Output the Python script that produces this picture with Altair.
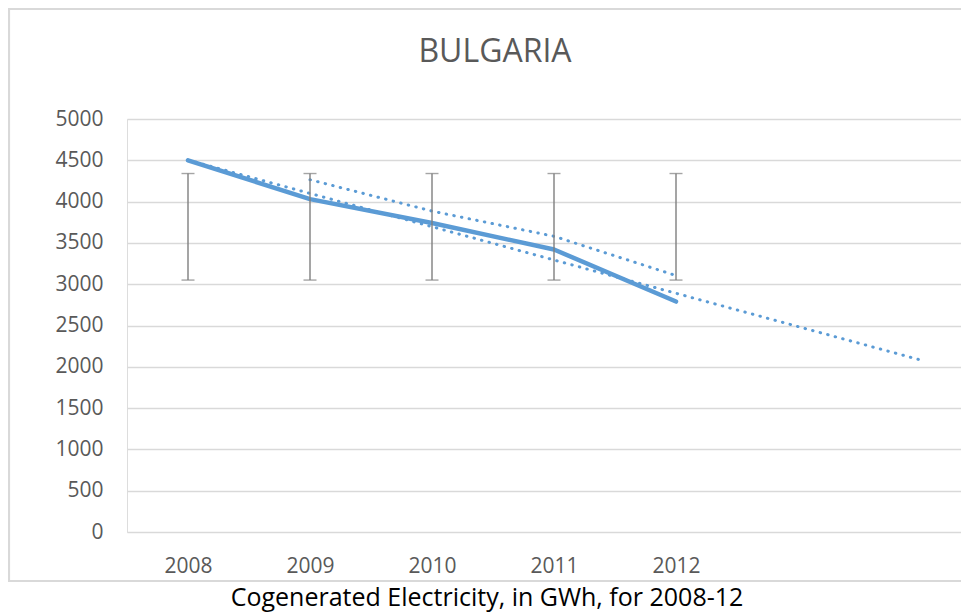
import altair as alt
import pandas as pd

years = [2008, 2009, 2010, 2011, 2012]
values = [4500, 4030, 3740, 3420, 2790]
err_low = [3050, 3050, 3050, 3050, 3050]
err_high = [4340, 4340, 4340, 4340, 4340]
y_ticks = [0, 500, 1000, 1500, 2000, 2500, 3000, 3500, 4000, 4500, 5000]
title_text = "BULGARIA"
caption_text = "Cogenerated Electricity, in GWh, for 2008-12"

df = pd.DataFrame({"year": years, "value": values, "lo": err_low, "hi": err_high})

W, H = 834, 413
PL, PT = 119, 111
BLUE = "#5B9BD5"
GREY_TXT = "#595959"
FONT = "Open Sans"

xscale = alt.Scale(domain=[2007.5, 2007.5 + W / 122.0], nice=False, zero=False)
yscale = alt.Scale(domain=[0, 5000], nice=False)

x_enc = alt.X("year:Q", scale=xscale,
              axis=alt.Axis(values=years, format="d", grid=False, domain=False, ticks=False,
                            labelPadding=23, labelFontSize=21, labelColor=GREY_TXT,
                            labelFont=FONT, title=None))
y_enc = alt.Y("value:Q", scale=yscale,
              axis=alt.Axis(values=y_ticks, format="d", grid=True, gridColor="#d9d9d9",
                            gridWidth=1.3, domain=False, ticks=False, labelPadding=24,
                            labelFontSize=21, labelColor=GREY_TXT, labelFont=FONT, title=None))

base = alt.Chart(df)

frame = alt.Chart(pd.DataFrame({"k": [0]})).mark_rect(
    fill=None, stroke="#d9d9d9", strokeWidth=2.2
).encode(
    x=alt.value(-118), x2=alt.value(W + 40),
    y=alt.value(-110), y2=alt.value(462),
)

line = base.mark_line(color=BLUE, strokeWidth=4.5, strokeCap="round", strokeJoin="round").encode(
    x=x_enc, y=y_enc)

dot_style = dict(color=BLUE, strokeWidth=3, strokeCap="round", strokeDash=[0.5, 7.3])

trend = base.transform_regression(
    "year", "value", method="linear", extent=[2008, 2014]
).mark_line(**dot_style).encode(x="year:Q", y="value:Q")

mavg = base.transform_window(
    ma="mean(value)", cnt="count()", frame=[-1, 0], sort=[alt.SortField("year")]
).transform_filter("datum.cnt == 2").mark_line(**dot_style).encode(
    x="year:Q", y=alt.Y("ma:Q"))

err_rule = base.mark_rule(color="#7f7f7f", strokeWidth=1.4).encode(
    x="year:Q", y="lo:Q", y2="hi:Q")
cap_lo = base.mark_tick(color="#7f7f7f", orient="horizontal", size=13, thickness=1.4).encode(
    x="year:Q", y="lo:Q")
cap_hi = base.mark_tick(color="#7f7f7f", orient="horizontal", size=13, thickness=1.4).encode(
    x="year:Q", y="hi:Q")

title = alt.Chart(pd.DataFrame({"t": [title_text]})).mark_text(
    font=FONT, fontSize=32, color=GREY_TXT, align="center", baseline="alphabetic"
).encode(text="t:N", x=alt.value(495 - 127), y=alt.value(62.3 - 119))

caption = alt.Chart(pd.DataFrame({"t": [caption_text]})).mark_text(
    font=FONT, fontSize=25, color="#000000", align="center", baseline="alphabetic"
).encode(text="t:N", x=alt.value(487 - 127), y=alt.value(606 - 119))

chart = alt.layer(
    frame, line, trend, mavg, err_rule, cap_lo, cap_hi, title, caption
).properties(
    width=W, height=H,
    autosize=alt.AutoSizeParams(type="none"),
    padding={"left": PL, "top": PT, "right": 0, "bottom": 83},
).configure_view(stroke=None).configure(background="white")

chart.save("out.html", embed_options={"renderer": "svg", "actions": False})
